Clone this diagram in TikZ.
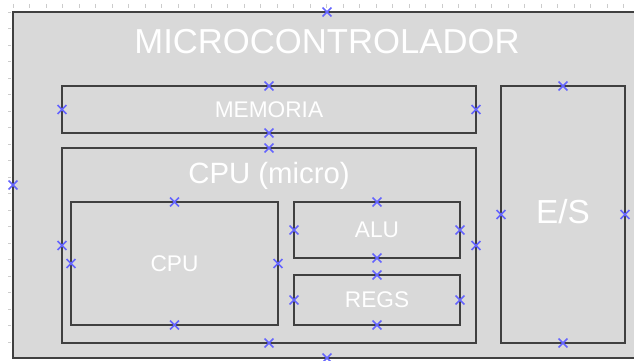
\documentclass[tikz,border=0pt]{standalone}
\usepackage{fontspec}
\setmainfont{Liberation Sans}
\usepackage{xcolor}
\usepackage{tikz}
\usetikzlibrary{positioning,shapes.misc}
\definecolor{handleblue}{RGB}{100,100,255}
\definecolor{panelgray}{RGB}{217,217,217}
\tikzset{
  blk/.style 2 args={rectangle, draw=black!75, line width=1.5pt, fill=panelgray, outer sep=0pt, inner sep=0pt, minimum width=#1*0.75pt, minimum height=#2*0.75pt, text=white, font=\fontsize{17}{20}\selectfont},
  hnd/.style={cross out, draw=handleblue, line width=1.2pt, minimum size=5.5pt, inner sep=0pt},
  ttl/.style={text=white, anchor=base, inner sep=0pt},
  rulertick/.style={draw=gray!40, line width=0.5pt}
}

\begin{document}
\begin{tikzpicture}[x=0.75pt, y=-0.75pt]
  \useasboundingbox (0,0) rectangle (634,360);
  % ruler
  \foreach \i in {0,...,37} \draw[rulertick] (13+16.5*\i,4) -- (13+16.5*\i,8);
  \foreach \i in {0,...,20} \draw[rulertick] (8,12+16.5*\i) -- (11,12+16.5*\i);
  % blocks
  \node[blk={628}{346}] (mc) at (327,185) {};
  \node[blk={414}{47}] (mem) at (269,109.5) {MEMORIA};
  \node[blk={414}{195}] (cpum) at (269,245.5) {};
  \node[blk={207}{123}] (cpu) at (174.5,263.5) {CPU};
  \node[blk={166}{56}] (alu) at (377,230) {ALU};
  \node[blk={166}{50}] (regs) at (377,300) {REGS};
  \node[blk={124}{257}, font=\fontsize{25}{30}\selectfont] (es) at (563,214.5) {\raisebox{4.5pt}{E/S}};
  \node[ttl, font=\fontsize{26}{30}\selectfont] (mctitle) at (327,54) {MICROCONTROLADOR};
  \node[ttl, font=\fontsize{22}{26}\selectfont] (cpumtitle) at (269,183) {CPU (micro)};
  % handles
  \foreach \b in {mc,mem,cpum,cpu,alu,regs,es}
    \foreach \a in {north,south,east,west}
      \node[hnd] (\b-\a) at (\b.\a) {};
\end{tikzpicture}
\end{document}
